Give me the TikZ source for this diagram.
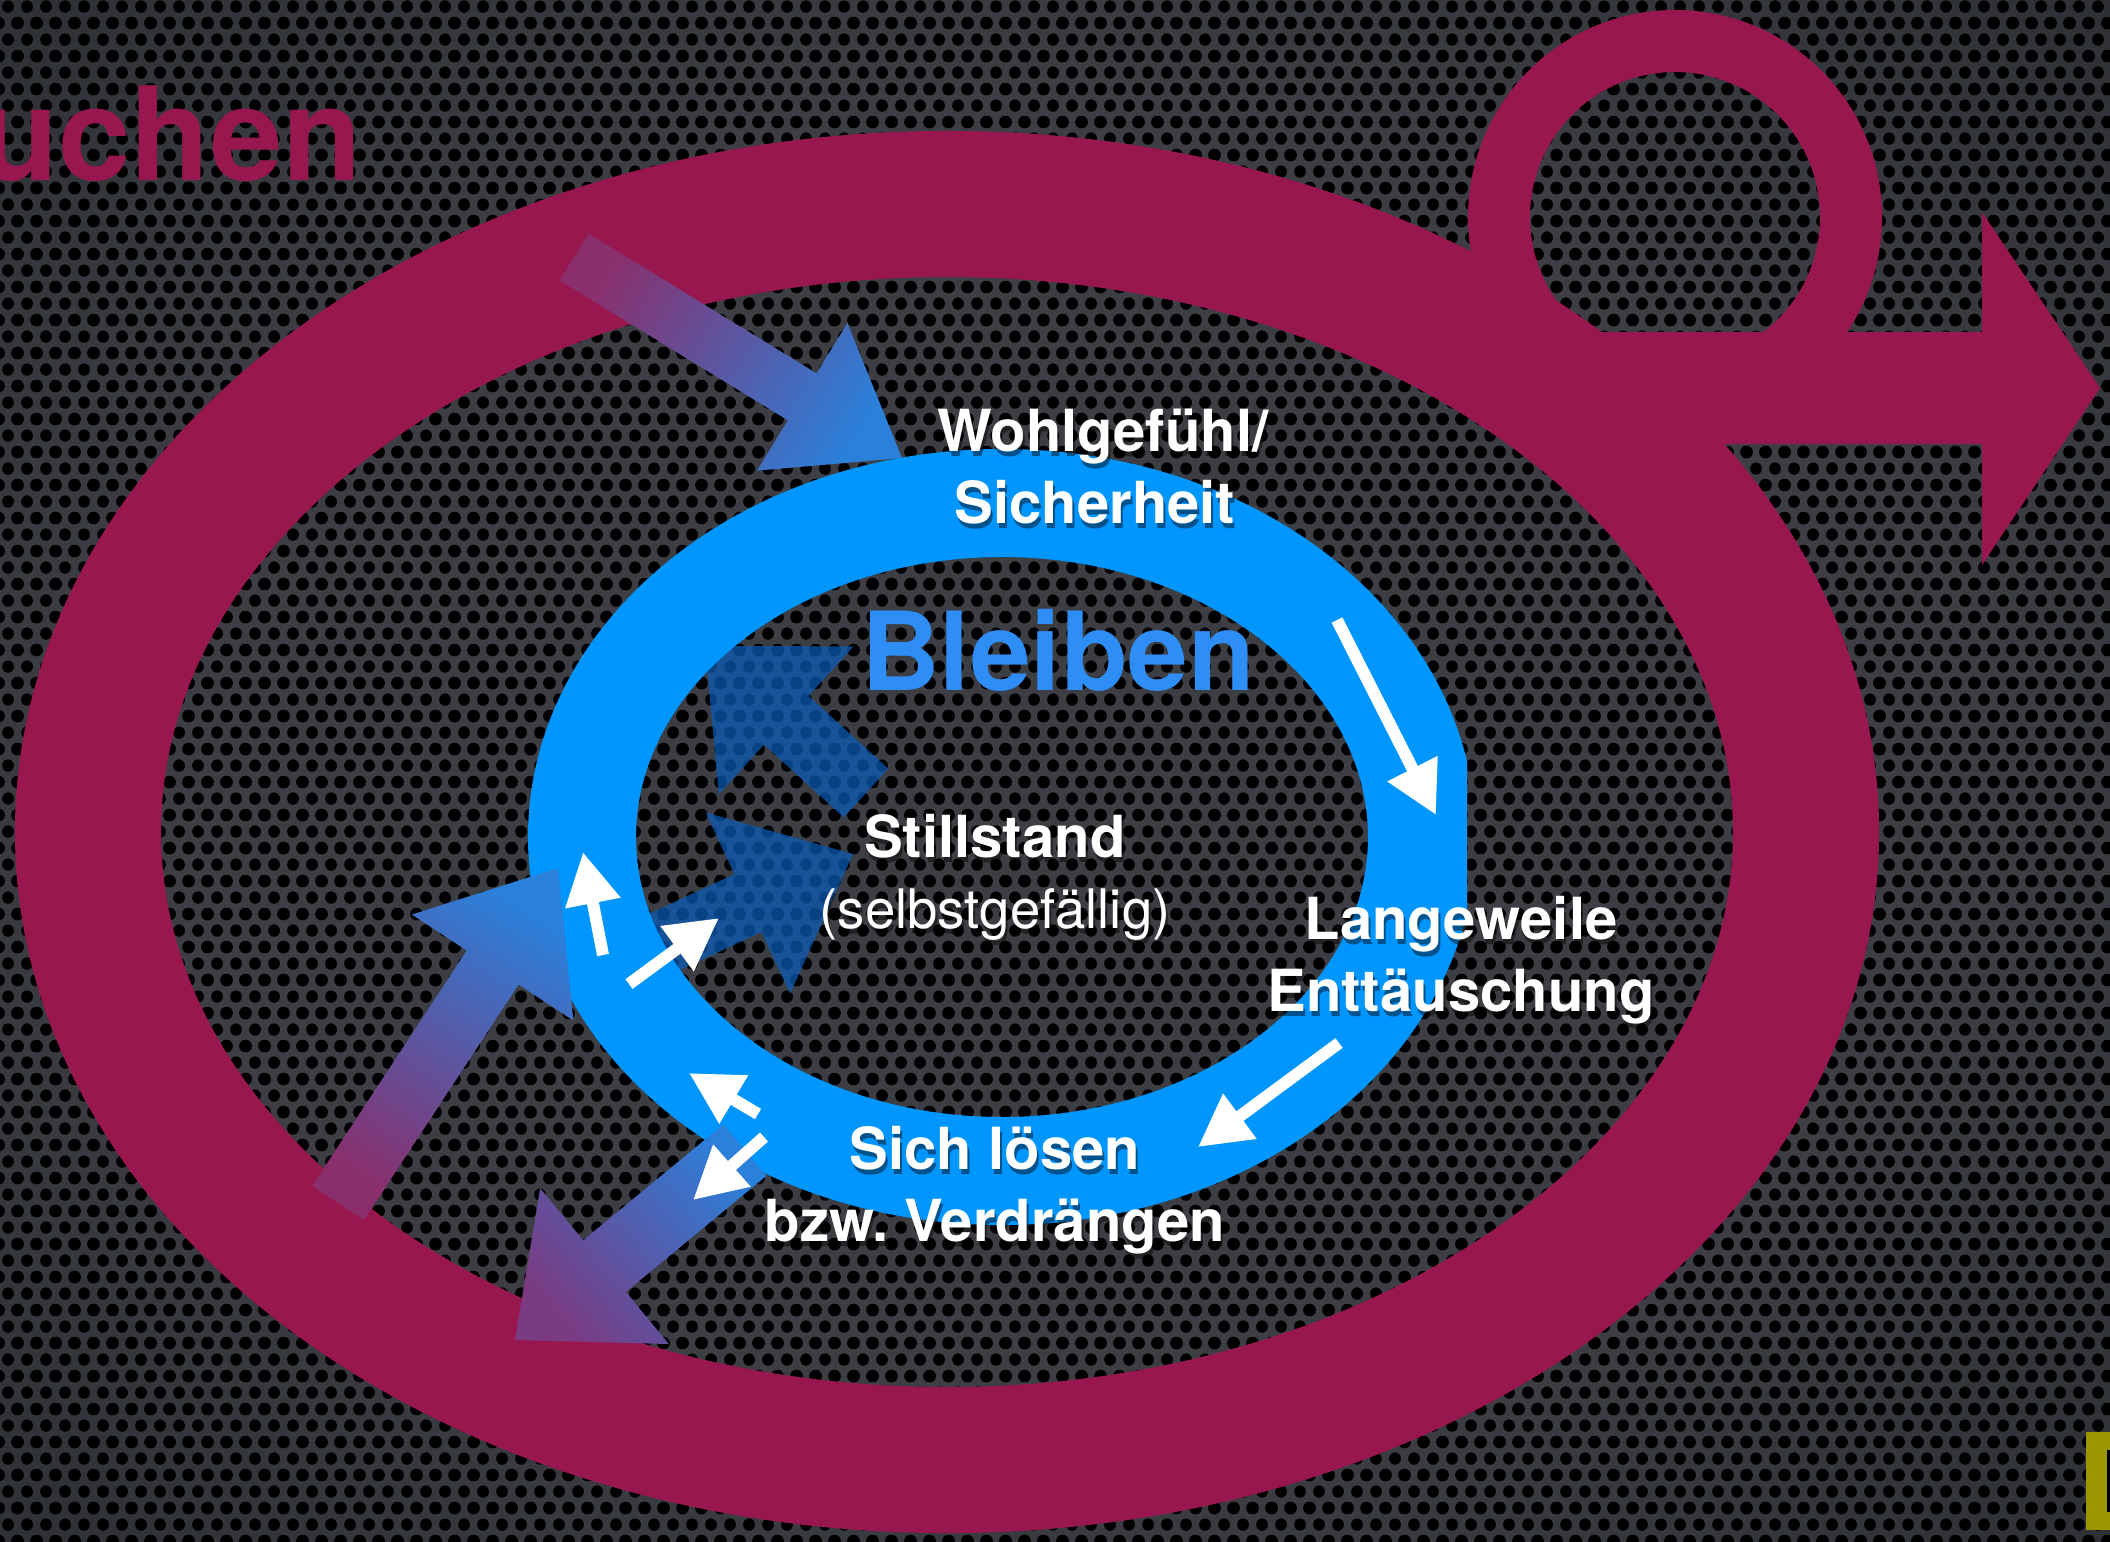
\documentclass[tikz,border=0pt]{standalone}
\usepackage{fontspec}
\setmainfont{TeX Gyre Heros}
\usepackage{tikz}
\usetikzlibrary{calc,arrows.meta,patterns.meta}
\definecolor{plum}{HTML}{98174F}
\definecolor{azure}{HTML}{0096FF}
\definecolor{bleibenblue}{HTML}{2E8EF5}
\definecolor{deepblue}{HTML}{0B5CB8}
\definecolor{tailplum}{HTML}{8A2F6C}
\definecolor{headblue}{HTML}{2B80DA}
\definecolor{tipviolet}{HTML}{7A3B82}
\definecolor{bgmid}{HTML}{3C3E43}
\definecolor{bgdark}{HTML}{1E2125}
\definecolor{bgedge}{HTML}{06080B}
\definecolor{olivebox}{HTML}{9B9500}
\pgfdeclareradialshading{vignette}{\pgfpoint{0bp}{0bp}}{color(0bp)=(bgmid); color(22bp)=(bgmid); color(50bp)=(bgdark); color(72bp)=(bgedge)}
\tikzdeclarepattern{
  name=holes,
  type=uncolored,
  bounding box={(0cm,0cm) and (0.19cm,0.329cm)},
  tile size={(0.19cm,0.329cm)},
  code={
    \fill (0cm,0cm) circle (0.062cm);
    \fill (0.19cm,0cm) circle (0.062cm);
    \fill (0cm,0.329cm) circle (0.062cm);
    \fill (0.19cm,0.329cm) circle (0.062cm);
    \fill (0.095cm,0.1645cm) circle (0.062cm);
  }
}
% broad arrow: options, tail, tip, half shaft, half head, head length
\newcommand{\fatarrow}[6]{%
  \coordinate (fatbase) at ($(#3)!#6!(#2)$);
  \path[#1] ($(#2)!#4!90:(#3)$) -- ($(fatbase)!#4!90:(#3)$) -- ($(fatbase)!#5!90:(#3)$) -- (#3)
    -- ($(fatbase)!#5!-90:(#3)$) -- ($(fatbase)!#4!-90:(#3)$) -- ($(#2)!#4!-90:(#3)$) -- cycle;
}
\tikzset{
  ring/.style={draw=plum, line width=1.46cm},
  loopring/.style={draw=plum, line width=0.62cm},
  bluering/.style={draw=azure, line width=1.08cm},
  darkarrow/.style={fill=deepblue, fill opacity=0.72},
  whitearrow/.style={draw=white, line width=0.12cm, -{Triangle[length=0.52cm, width=0.53cm]}},
  lab/.style={text=white, font=\bfseries\fontsize{16.5}{20}\selectfont, anchor=base, inner sep=0pt},
  labshadow/.style={text=black, text opacity=0.45, font=\bfseries\fontsize{16.5}{20}\selectfont, anchor=base, inner sep=0pt},
  thin/.style={font=\fontsize{15.5}{20}\selectfont},
}

\begin{document}
\begin{tikzpicture}[x=0.01cm, y=-0.01cm]
  \useasboundingbox (0,0) rectangle (2110,1541);
  % perforated background
  \shade[shading=vignette] (0,0) rectangle (2110,1541);
  \fill[pattern=holes, pattern color=black] (0,0) rectangle (2110,1541);

  % outer loop
  \draw[loopring] (1675,217) circle [radius=176];
  \draw[ring] (947,832) ellipse [x radius=859, y radius=628];
  \fill[plum] (1569,332) -- (1982,332) -- (1982,212) -- (2100,388)
    -- (1982,565) -- (1982,444) -- (1569,444) -- cycle;
  \node[anchor=base east, inner sep=0pt, text=plum, font=\bfseries\fontsize{37}{40}\selectfont]
    (suchen) at (363,180) {uchen};

  % inner arrows under the blue ring
  \coordinate (d1tail) at (866,793);
  \coordinate (d1tip) at (705,646);
  \coordinate (d2tail) at (600,972);
  \coordinate (d2tip) at (853,854);
  \fatarrow{darkarrow}{d1tail}{d1tip}{0.33cm}{1cm}{1.1cm}
  \fatarrow{darkarrow}{d2tail}{d2tip}{0.32cm}{1cm}{1.16cm}

  % blue ring
  \begin{scope}
    \clip (0,0) rectangle (1467,1541);
    \draw[bluering] (1002,837) ellipse [x radius=420, y radius=334];
  \end{scope}

  % gradient arrows
  \coordinate (g1tail) at (574,257);
  \coordinate (g1tip) at (902,458);
  \coordinate (g2tail) at (338,1203);
  \coordinate (g2tip) at (558,868);
  \coordinate (g3tail) at (745,1150);
  \coordinate (g3tip) at (515,1340);
  \fatarrow{top color=headblue, bottom color=tailplum, shading angle=-121.5}{g1tail}{g1tip}{0.275cm}{0.865cm}{1.17cm}
  \fatarrow{top color=headblue, bottom color=tailplum, shading angle=-33.3}{g2tail}{g2tip}{0.31cm}{0.965cm}{1.19cm}
  \fatarrow{top color=tipviolet, bottom color=headblue, shading angle=129.6}{g3tail}{g3tip}{0.335cm}{1.01cm}{1.16cm}

  % white arrows on the ring
  \coordinate (w1a) at (1337,620);
  \coordinate (w1b) at (1436,815);
  \coordinate (w2a) at (1339,1043);
  \coordinate (w2b) at (1198,1147);
  \coordinate (w3a) at (603,955);
  \coordinate (w3b) at (583,852);
  \coordinate (w4a) at (629,984);
  \coordinate (w4b) at (719,918);
  \coordinate (w5a) at (758,1114);
  \coordinate (w5b) at (689,1073);
  \coordinate (w6a) at (764,1137);
  \coordinate (w6b) at (693,1200);
  \foreach \a/\b in {w1a/w1b, w2a/w2b, w3a/w3b, w4a/w4b, w5a/w5b, w6a/w6b}
    \draw[whitearrow] (\a) -- (\b);

  % labels
  \node[anchor=base, inner sep=0pt, text=bleibenblue, font=\bfseries\fontsize{31}{34}\selectfont]
    (bleiben) at (1058,690) {Bleiben};
  \node[labshadow] at (1105,456) {Wohlgefühl/};
  \node[labshadow] at (1097,528) {Sicherheit};
  \node[labshadow] at (997,862) {Stillstand};
  \node[labshadow, thin] at (997,933) {(selbstgefällig)};
  \node[labshadow] at (1463,944) {Langeweile};
  \node[labshadow] at (1463,1016) {Enttäuschung};
  \node[labshadow] at (997,1174) {Sich lösen};
  \node[labshadow] at (997,1246) {bzw.\ Verdrängen};
  \node[lab] (wohl) at (1103,451) {Wohlgefühl/};
  \node[lab] (sicher) at (1095,523) {Sicherheit};
  \node[lab] (still) at (995,857) {Stillstand};
  \node[lab, thin] (selbst) at (995,928) {(selbstgefällig)};
  \node[lab] (lange) at (1461,939) {Langeweile};
  \node[lab] (entt) at (1461,1011) {Enttäuschung};
  \node[lab] (loesen) at (995,1169) {Sich lösen};
  \node[lab] (verdr) at (995,1241) {bzw.\ Verdrängen};

  % corner box
  \fill[olivebox] (2086,1432) rectangle (2110,1530);
  \fill[black] (2107,1450) rectangle (2110,1512);
\end{tikzpicture}
\end{document}
